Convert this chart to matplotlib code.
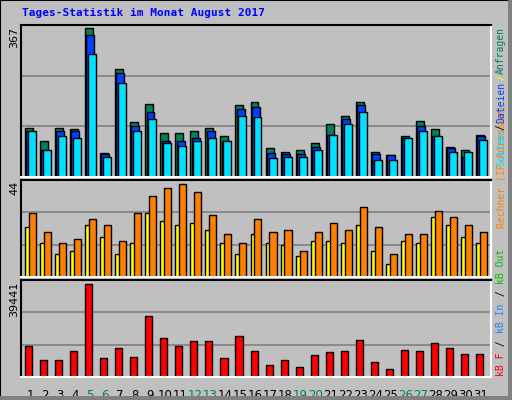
import matplotlib
matplotlib.use('Agg')
import matplotlib.pyplot as plt
from matplotlib.patches import Rectangle

days = list(range(1, 32))
weekend = [5, 6, 12, 13, 19, 20, 26, 27]

hits = [119, 86, 119, 115, 360, 59, 260, 134, 177, 107, 107, 112, 119, 100, 175, 182,
        69, 61, 64, 83, 127, 148, 180, 61, 54, 100, 136, 115, 73, 66, 102]
files = [110, 66, 110, 110, 344, 56, 250, 124, 158, 86, 86, 93, 110, 86, 165, 168,
         59, 56, 56, 73, 102, 139, 175, 56, 52, 93, 124, 100, 71, 49, 100]
pages = [110, 64, 98, 93, 298, 48, 226, 110, 139, 83, 76, 86, 93, 86, 148, 144,
         47, 49, 49, 66, 102, 127, 156, 42, 42, 93, 112, 100, 61, 61, 90]
visits = [22.5, 15.6, 10.5, 11.9, 23.4, 18.3, 10.5, 15.6, 28.9, 25.2, 23.4, 24.3, 21.1, 15.6, 10.5, 19.3,
          15.6, 14.7, 9.6, 16.5, 16.5, 15.6, 23.4, 11.9, 6.0, 16.5, 15.6, 27.0, 23.4, 18.3, 15.6]
sites = [28.9, 20.2, 15.6, 17.4, 26.1, 23.4, 16.5, 28.9, 36.7, 40.3, 42.2, 38.5, 28.0, 19.3, 15.6, 26.1,
         20.2, 21.1, 11.9, 20.2, 24.3, 21.1, 31.6, 22.5, 10.5, 19.3, 19.3, 29.8, 27.0, 23.4, 20.2]
kbytes = [12455, 7058, 7058, 10379, 37780, 7888, 11625, 8303, 24910, 15776, 12455, 14531, 14531, 7888, 16607, 10379,
          4982, 7058, 4152, 9134, 9964, 10379, 14946, 6228, 3321, 10794, 10379, 13700, 11625, 9549, 9549]
max_top, max_mid, max_bot = 367, 44, 39441

BG = '#C0C0C0'
GREEN = '#00805C'
BLUE = '#0040FF'
CYAN = '#00E0FF'
YELLOW = '#FFFF00'
ORANGE = '#FF8000'
RED = '#FF0000'

W, H = 512, 400
fig = plt.figure(figsize=(W / 100, H / 100), dpi=100, facecolor=BG)


def px_axes(x0, y0, x1, y1):
    return fig.add_axes([x0 / W, 1 - y1 / H, (x1 - x0) / W, (y1 - y0) / H])


def style(ax, ymax):
    ax.set_facecolor(BG)
    ax.set_xlim(0.2, 31.47)
    ax.set_ylim(0, ymax)
    ax.set_xticks([])
    ax.set_yticks([])
    for y in (ymax / 3, 2 * ymax / 3):
        ax.axhline(y, color='#808080', lw=1.2, zorder=0)
    ax.spines['top'].set_color('black')
    ax.spines['left'].set_color('black')
    ax.spines['bottom'].set_color('white')
    ax.spines['right'].set_color('white')
    for s in ax.spines.values():
        s.set_linewidth(1.5)


kw = dict(align='edge', edgecolor='black', linewidth=1)

# ── Anfragen / Dateien / Seiten ──
ax1 = px_axes(21, 25, 491, 177)
style(ax1, max_top)
ax1.bar([d - 0.53 for d in days], hits, width=0.53, color=GREEN, **kw)
ax1.bar([d - 0.45 for d in days], files, width=0.53, color=BLUE, **kw)
ax1.bar([d - 0.33 for d in days], pages, width=0.53, color=CYAN, **kw)

# ── Besuche / Rechner ──
ax2 = px_axes(21, 180, 491, 277)
style(ax2, max_mid)
ax2.bar([d - 0.53 for d in days], visits, width=0.47, color=YELLOW, **kw)
ax2.bar([d - 0.27 for d in days], sites, width=0.47, color=ORANGE, **kw)

# ── kB ──
ax3 = px_axes(21, 280, 491, 377)
style(ax3, max_bot)
ax3.bar([d - 0.53 for d in days], kbytes, width=0.47, color=RED, **kw)

for d in days:
    ax3.text(d - 0.2, -0.12, str(d), transform=ax3.get_xaxis_transform(),
             ha='center', va='top', fontsize=8.5,
             color=GREEN if d in weekend else 'black')

# title + max labels
fig.text(22 / W, 1 - 13 / H, 'Tages-Statistik im Monat August 2017', color='#0000FF',
         fontsize=8, fontweight='bold', family='DejaVu Sans Mono', va='center', ha='left')
for lab, ytop in ((str(max_top), 27), (str(max_mid), 181), (str(max_bot), 282)):
    fig.text(14 / W, 1 - ytop / H, lab, rotation=90, fontsize=8, ha='center', va='top')


# right side vertical legend, pieces stacked bottom to top
def vlabel(pieces, ystart, cw=6.0):
    y = ystart
    for txt, col in pieces:
        fig.text(501 / W, 1 - y / H, txt, rotation=90, color=col, fontsize=7.0,
                 family='DejaVu Sans Mono', ha='center', va='bottom')
        y -= cw * len(txt) + 0.5


vlabel([('Rechner (IP-Adressen)', ORANGE)], 228)
fig.patches.append(Rectangle((495 / W, 1 - 177 / H), 12 / W, 152 / H, transform=fig.transFigure,
                             facecolor=BG, edgecolor='none'))
vlabel([('Seiten', CYAN), ('/', 'black'), ('Dateien', BLUE), ('/', YELLOW), ('Anfragen', GREEN)], 166)
vlabel([('kB F', RED), (' / ', 'black'), ('kB In', '#2080FF'), (' / ', 'black'), ('kB Out', '#00C000')], 376)

# outer 3D border
fig.patches.append(Rectangle((0, 0), 1, 1, transform=fig.transFigure, fill=False,
                             edgecolor='black', lw=1.5))
fig.patches.append(Rectangle((508 / W, 0), 4 / W, 1, transform=fig.transFigure,
                             facecolor='#808080', edgecolor='none'))
fig.patches.append(Rectangle((0, 0), 1, 4 / H, transform=fig.transFigure,
                             facecolor='#808080', edgecolor='none'))

fig.savefig('out.png', dpi=100, facecolor=BG)
